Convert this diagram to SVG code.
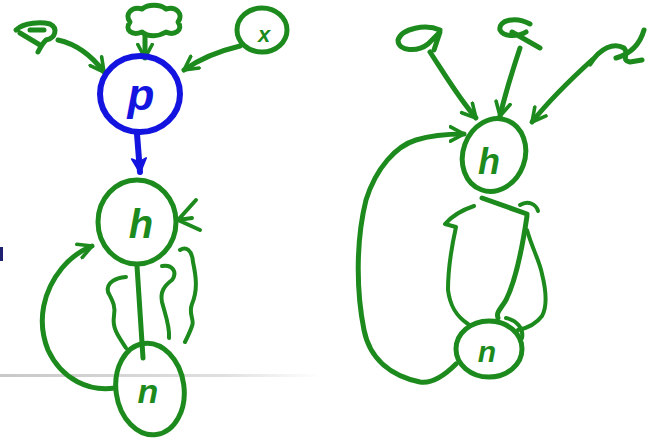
<svg xmlns="http://www.w3.org/2000/svg" width="654" height="439" viewBox="0 0 654 439">
<defs>
<linearGradient id="fade" x1="0" y1="0" x2="1" y2="0">
<stop offset="0" stop-color="#c8c8c8"/>
<stop offset="0.7" stop-color="#e0e0e0"/>
<stop offset="1" stop-color="#ffffff"/>
</linearGradient>
<marker id="ga" viewBox="0 0 20 20" refX="17" refY="10" markerWidth="18" markerHeight="18" markerUnits="userSpaceOnUse" orient="auto">
<path d="M2,2 L17,10 L2,18" fill="none" stroke="#1c8a1c" stroke-width="4" stroke-linecap="round" stroke-linejoin="round"/>
</marker>
<marker id="ba" viewBox="0 0 20 20" refX="17" refY="10" markerWidth="18" markerHeight="18" markerUnits="userSpaceOnUse" orient="auto">
<path d="M2,2 L18,10 L2,18 L6,10 Z" fill="#1414e0" stroke="#1414e0" stroke-width="2" stroke-linejoin="round"/>
</marker>
</defs>
<style>
.g{fill:none;stroke:#1c8a1c;stroke-width:5;stroke-linecap:round;stroke-linejoin:round}
.gt{fill:none;stroke:#1c8a1c;stroke-width:4;stroke-linecap:round;stroke-linejoin:round}
.b{fill:none;stroke:#1414e0;stroke-width:6;stroke-linecap:round;stroke-linejoin:round}
.lg{font-family:"Liberation Sans",Arial,sans-serif;font-style:italic;font-weight:bold;fill:#1c8a1c;text-anchor:middle}
.lb{font-family:"Liberation Sans",Arial,sans-serif;font-style:italic;font-weight:bold;fill:#1414e0;text-anchor:middle}
</style>
<rect width="654" height="439" fill="#ffffff"/>
<rect x="0" y="374" width="320" height="3" fill="url(#fade)"/>
<rect x="0" y="247" width="3" height="14" fill="#202070"/>

<g id="connectors">
<path class="g" d="M58,40 C76,44 92,56 104,72" marker-end="url(#ga)"/>
<path class="g" d="M145,34 L145,58" marker-end="url(#ga)"/>
<path class="g" d="M240,46 C215,52 198,60 184,70" marker-end="url(#ga)"/>
<path class="b" d="M137,134 L140,172" marker-end="url(#ba)"/>
<path class="g" d="M115,388 C90,392 62,380 48,350 C36,320 44,290 62,268 C72,256 82,250 92,246" marker-end="url(#ga)"/>
<path class="gt" d="M196,200 L178,220 L200,230 M178,220 L192,218"/>
<path class="g" d="M137,266 L143,358"/>
<path class="gt" d="M126,277 C116,278 106,282 108,292 C112,300 116,306 114,316 C112,328 118,336 126,348"/>
<path class="gt" d="M162,266 C172,264 178,272 172,280 C164,286 160,292 162,302 C165,314 170,326 169,338"/>
<path class="gt" d="M180,250 C186,246 192,250 193,262 C196,276 198,290 192,304 C188,314 195,320 192,326 C190,332 188,336 185,342"/>
<path class="g" d="M430,52 C445,75 460,100 476,118" marker-end="url(#ga)"/>
<path class="g" d="M520,48 C512,72 505,95 500,116" marker-end="url(#ga)"/>
<path class="g" d="M592,60 C570,80 548,102 532,122" marker-end="url(#ga)"/>
<path class="g" d="M456,364 C444,376 432,384 420,382 C392,376 370,360 364,330 C356,290 356,240 366,200 C376,168 396,146 416,140 C432,135 448,134 464,134" marker-end="url(#ga)"/>
<path class="g" d="M482,198 L527,214"/>
<path class="gt" d="M520,205 C528,200 536,204 538,211"/>
<path class="g" d="M527,216 C522,250 516,280 506,300 C500,310 496,312 498,318"/>
<path class="gt" d="M474,206 C462,210 452,216 445,224 L456,227 C452,245 448,270 448,290 C450,306 456,316 468,324"/>
<path class="gt" d="M527,230 C532,248 540,262 542,274 C546,290 548,305 542,316 C536,324 528,328 518,330"/>
</g>

<g id="node-left-a">
<path class="g" d="M16,30 C24,22 42,22 50,24 C58,28 56,38 46,40 C42,44 40,48 38,52 M20,33 L40,45 M30,30 L44,30"/>
</g>
<g id="node-left-cloud">
<path class="g" d="M130,22 C124,14 132,6 142,9 C148,4 160,4 166,9 C176,6 184,14 178,22 C184,30 174,36 166,32 C158,37 148,37 142,32 C132,36 124,30 130,22 Z"/>
</g>
<g id="node-left-x">
<ellipse class="g" cx="262" cy="30" rx="25" ry="22"/>
<text class="lg" x="264" y="42" font-size="22">x</text>
</g>
<g id="node-p">
<ellipse class="b" cx="140" cy="94" rx="40" ry="38"/>
<text class="lb" x="141" y="110" font-size="44">p</text>
</g>
<g id="node-left-h">
<ellipse class="g" cx="137" cy="222" rx="39" ry="42"/>
<text class="lg" x="141" y="238" font-size="40">h</text>
</g>
<g id="node-left-n">
<ellipse class="g" cx="150" cy="389" rx="34" ry="46" transform="rotate(-8 150 389)"/>
<text class="lg" x="148" y="403" font-size="34">n</text>
</g>

<g id="node-right-a1">
<path class="g" d="M440,30 C426,24 402,28 398,40 C398,52 418,52 428,44 L440,32 L434,50"/>
</g>
<g id="node-right-q">
<path class="g" d="M530,24 C516,16 498,20 500,30 C504,38 520,36 526,32 M512,32 L540,48"/>
</g>
<g id="node-right-a2">
<path class="g" d="M644,30 C640,44 630,54 616,58 M590,64 C600,48 614,42 624,48 C630,54 620,60 630,62 L642,60"/>
</g>
<g id="node-right-h">
<ellipse class="g" cx="494" cy="155" rx="31" ry="37" transform="rotate(20 494 155)"/>
<text class="lg" x="489" y="174" font-size="36">h</text>
</g>
<g id="node-right-n">
<ellipse class="g" cx="489" cy="349" rx="33" ry="28"/>
<path class="gt" d="M506,318 C516,320 524,328 522,338"/>
<text class="lg" x="487" y="362" font-size="30">n</text>
</g>
</svg>
